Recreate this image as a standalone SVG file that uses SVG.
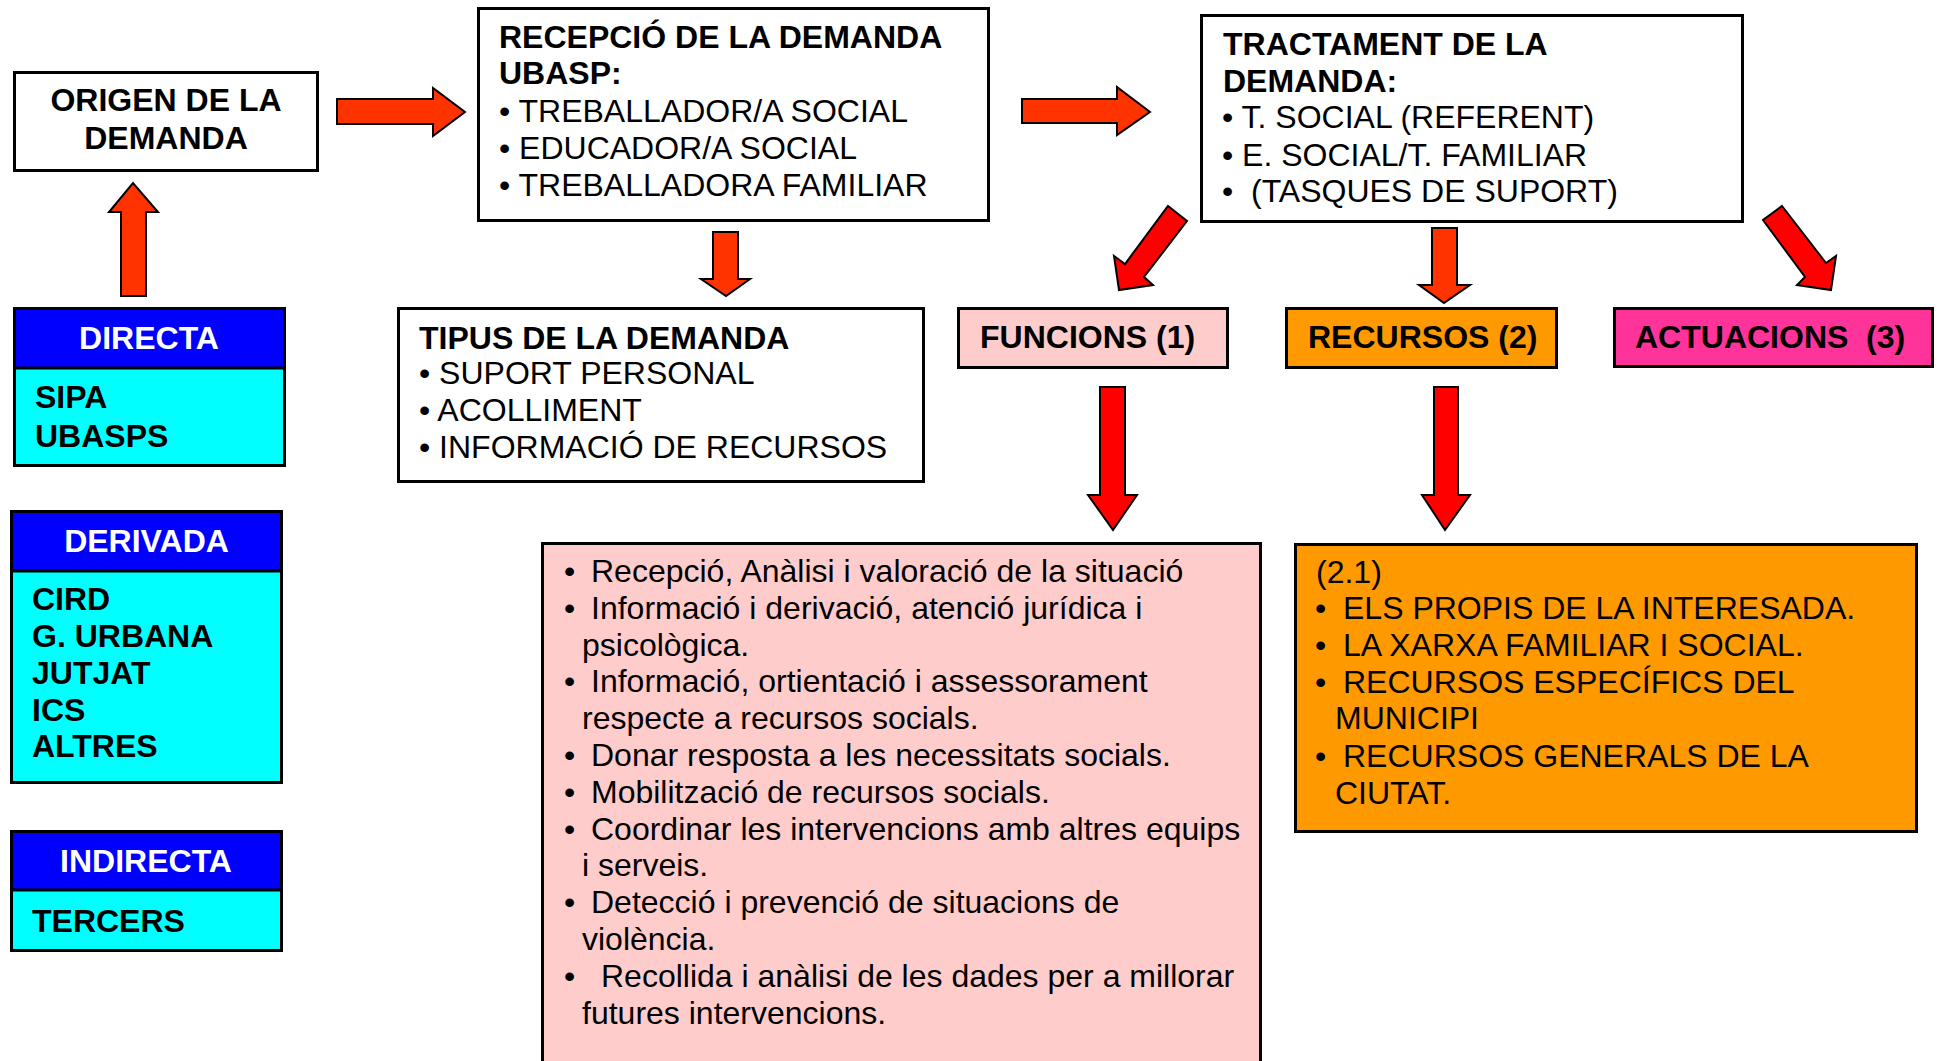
<svg xmlns="http://www.w3.org/2000/svg" width="1943" height="1061" viewBox="0 0 1943 1061">
<style>
text{font-family:"Liberation Sans",Arial,sans-serif;font-size:32px;fill:#000;white-space:pre}
.b{font-weight:bold}
.w{fill:#fff}
.box{stroke:#000;stroke-width:3}
.ar1{fill:#FF3300;stroke:#000;stroke-width:2;stroke-linejoin:miter}
.ar2{fill:#FF0000;stroke:#000;stroke-width:2;stroke-linejoin:miter}
</style>
<rect x="0" y="0" width="1943" height="1061" fill="#fff"/>
<g id="connectors">
<polygon class="ar1" points="337,99 433,99 433,88 465,112 433,136 433,124 337,124"/>
<polygon class="ar1" points="1022,99 1117,99 1117,87 1150,112 1117,135 1117,123 1022,123"/>
<polygon class="ar1" points="121,296 121,212 109,212 133,183 158,212 146,212 146,296"/>
<polygon class="ar1" points="713,232 738,232 738,279 750,279 726,296 701,279 713,279"/>
<polygon class="ar1" points="1432,228 1457,228 1457,285 1470,285 1444,303 1419,285 1432,285"/>
<polygon class="ar2" points="1100,387 1125,387 1125,495 1137,495 1113,530 1088,495 1100,495"/>
<polygon class="ar2" points="1434,387 1458,387 1458,495 1470,495 1445,530 1422,495 1434,495"/>
<polygon class="ar2" points="1168,206 1187,221 1144,277 1153,285 1119,290 1114,256 1125,264"/>
<polygon class="ar2" points="1782,206 1826,263 1836,256 1831,290 1797,285 1805,277 1763,220"/>
</g>
<g id="origen">
<rect class="box" x="14.5" y="72.5" width="303" height="98" fill="#fff"/>
<text class="b" x="166" y="111" text-anchor="middle">ORIGEN DE LA</text>
<text class="b" x="166" y="149" text-anchor="middle">DEMANDA</text>
</g>
<g id="recepcio">
<rect class="box" x="478.5" y="8.5" width="510" height="212" fill="#fff"/>
<text class="b" x="499" y="48">RECEPCIÓ DE LA DEMANDA</text>
<text class="b" x="499" y="84">UBASP:</text>
<text x="499" y="122">• TREBALLADOR/A SOCIAL</text>
<text x="499" y="159">• EDUCADOR/A SOCIAL</text>
<text x="499" y="196">• TREBALLADORA FAMILIAR</text>
</g>
<g id="tractament">
<rect class="box" x="1201.5" y="15.5" width="541" height="206" fill="#fff"/>
<text class="b" x="1223" y="55">TRACTAMENT DE LA</text>
<text class="b" x="1223" y="92">DEMANDA:</text>
<text x="1222" y="128">• T. SOCIAL (REFERENT)</text>
<text x="1222" y="166">• E. SOCIAL/T. FAMILIAR</text>
<text x="1222" y="202">•  (TASQUES DE SUPORT)</text>
</g>
<g id="tipus">
<rect class="box" x="398.5" y="308.5" width="525" height="173" fill="#fff"/>
<text class="b" x="419" y="349">TIPUS DE LA DEMANDA</text>
<text x="419" y="384">• SUPORT PERSONAL</text>
<text x="419" y="421">• ACOLLIMENT</text>
<text x="419" y="458">• INFORMACIÓ DE RECURSOS</text>
</g>
<g id="directa">
<rect class="box" x="14.5" y="308.5" width="270" height="157" fill="#00FFFF"/>
<rect class="box" x="14.5" y="308.5" width="270" height="59.5" fill="#0000FF"/>
<text class="b w" x="149" y="349" text-anchor="middle">DIRECTA</text>
<text class="b" x="35" y="408">SIPA</text>
<text class="b" x="35" y="447">UBASPS</text>
</g>
<g id="derivada">
<rect class="box" x="11.5" y="511.5" width="270" height="271" fill="#00FFFF"/>
<rect class="box" x="11.5" y="511.5" width="270" height="59.5" fill="#0000FF"/>
<text class="b w" x="146.5" y="552" text-anchor="middle">DERIVADA</text>
<text class="b" x="32" y="610">CIRD</text>
<text class="b" x="32" y="647">G. URBANA</text>
<text class="b" x="32" y="684">JUTJAT</text>
<text class="b" x="32" y="721">ICS</text>
<text class="b" x="32" y="757">ALTRES</text>
</g>
<g id="indirecta">
<rect class="box" x="11.5" y="831.5" width="270" height="119" fill="#00FFFF"/>
<rect class="box" x="11.5" y="831.5" width="270" height="58.5" fill="#0000FF"/>
<text class="b w" x="146" y="872" text-anchor="middle">INDIRECTA</text>
<text class="b" x="32" y="932">TERCERS</text>
</g>
<g id="funcions">
<rect class="box" x="958.5" y="308.5" width="269" height="59" fill="#FFCCCC"/>
<text class="b" x="980" y="348">FUNCIONS (1)</text>
</g>
<g id="recursos">
<rect class="box" x="1286.5" y="308.5" width="270" height="59" fill="#FF9900"/>
<text class="b" x="1308" y="348">RECURSOS (2)</text>
</g>
<g id="actuacions">
<rect class="box" x="1614.5" y="308.5" width="318" height="58" fill="#FF3399"/>
<text class="b" x="1635" y="348">ACTUACIONS  (3)</text>
</g>
<g id="funcions-llista">
<rect class="box" x="542.5" y="543.5" width="718" height="530" fill="#FFCCCC"/>
<text x="564" y="582">•</text><text x="591" y="582">Recepció, Anàlisi i valoració de la situació</text>
<text x="564" y="619">•</text><text x="591" y="619">Informació i derivació, atenció jurídica i</text>
<text x="582" y="656">psicològica.</text>
<text x="564" y="692">•</text><text x="591" y="692">Informació, ortientació i assessorament</text>
<text x="582" y="729">respecte a recursos socials.</text>
<text x="564" y="766">•</text><text x="591" y="766">Donar resposta a les necessitats socials.</text>
<text x="564" y="803">•</text><text x="591" y="803">Mobilització de recursos socials.</text>
<text x="564" y="840">•</text><text x="591" y="840">Coordinar les intervencions amb altres equips</text>
<text x="582" y="876">i serveis.</text>
<text x="564" y="913">•</text><text x="591" y="913">Detecció i prevenció de situacions de</text>
<text x="582" y="950">violència.</text>
<text x="564" y="987">•</text><text x="601" y="987">Recollida i anàlisi de les dades per a millorar</text>
<text x="582" y="1024">futures intervencions.</text>
</g>
<g id="recursos-llista">
<rect class="box" x="1295.5" y="544.5" width="621" height="287" fill="#FF9900"/>
<text x="1316" y="583">(2.1)</text>
<text x="1315" y="619">•</text><text x="1343" y="619">ELS PROPIS DE LA INTERESADA.</text>
<text x="1315" y="656">•</text><text x="1343" y="656">LA XARXA FAMILIAR I SOCIAL.</text>
<text x="1315" y="693">•</text><text x="1343" y="693">RECURSOS ESPECÍFICS DEL</text>
<text x="1335" y="729">MUNICIPI</text>
<text x="1315" y="767">•</text><text x="1343" y="767">RECURSOS GENERALS DE LA</text>
<text x="1335" y="804">CIUTAT.</text>
</g>
</svg>
